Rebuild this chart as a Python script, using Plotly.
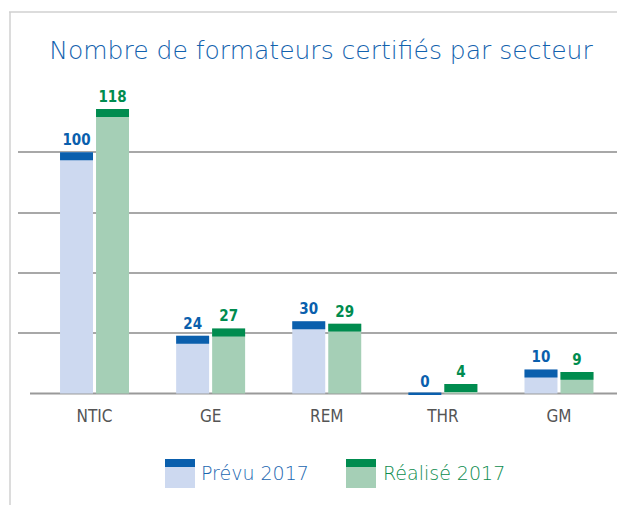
import plotly.graph_objects as go

categories = ["NTIC", "GE", "REM", "THR", "GM"]
prevu_2017 = [100, 24, 30, 0, 10]
realise_2017 = [118, 27, 29, 4, 9]
series_names = ["Prévu 2017", "Réalisé 2017"]
title_text = "Nombre de formateurs certifiés par secteur"
grid_values = [25, 50, 75, 100]

# page body has an 8px margin: work in screen pixels, shift by OFF
OFF = 8
W, H = 625 - OFF, 505 - OFF
SCR_L, SCR_R, SCR_T, SCR_B = 18, 624, 80, 396   # plot area in screen px
L, T = SCR_L - OFF, SCR_T - OFF
R = W - (SCR_R - OFF)
B = H - (SCR_B - OFF)
PW, PH = W - L - R, H - T - B

def xp(px):
    return (px - SCR_L) / PW

def yp(py):
    return (SCR_B - py) / PH

CAP = 3.3
LIGHT_BLUE, DARK_BLUE = "#cdd9f0", "#0a5fad"
LIGHT_GREEN, DARK_GREEN = "#a5cfb6", "#008c4f"
TITLE_FONT = "DejaVu Sans, sans-serif"
NUM_FONT = "DejaVu Sans Condensed, Liberation Sans Narrow, sans-serif"

def caps(vals):
    h = [min(CAP, v) if v > 0 else 0.8 for v in vals]
    base = [v - hh if v > 0 else -0.4 for v, hh in zip(vals, h)]
    return base, h

BW = 0.284
OFF_P = -0.297
OFF_R = 0.013

fig = go.Figure()
for vals, off, light, dark in [(prevu_2017, OFF_P, LIGHT_BLUE, DARK_BLUE),
                               (realise_2017, OFF_R, LIGHT_GREEN, DARK_GREEN)]:
    fig.add_trace(go.Bar(
        x=categories, y=vals, width=BW, offset=off,
        marker=dict(color=light, line=dict(width=0)),
        text=[str(v) for v in vals], textposition="outside",
        textfont=dict(family=NUM_FONT, size=15, color=dark, weight="bold"),
        cliponaxis=False, showlegend=False, hoverinfo="skip"))
    base, h = caps(vals)
    fig.add_trace(go.Bar(
        x=categories, y=h, base=base, width=BW, offset=off,
        marker=dict(color=dark, line=dict(width=0)),
        showlegend=False, hoverinfo="skip"))

shapes = []
shapes.append(dict(type="line", xref="paper", yref="y", x0=xp(30), x1=xp(623), y0=0, y1=0,
                   line=dict(color="#9a9a9a", width=2), layer="below"))
shapes.append(dict(type="line", xref="paper", yref="paper", x0=xp(9), x1=xp(625), y0=yp(12), y1=yp(12),
                   line=dict(color="#d0d0d0", width=1.5)))
shapes.append(dict(type="line", xref="paper", yref="paper", x0=xp(10), x1=xp(10), y0=yp(12), y1=yp(505),
                   line=dict(color="#d0d0d0", width=1.5)))
annotations = []
for x0, light, dark, name, col, tx in [(165, LIGHT_BLUE, DARK_BLUE, series_names[0], "#1a66b0", 199),
                                       (346, LIGHT_GREEN, DARK_GREEN, series_names[1], "#0c8c4e", 381)]:
    shapes.append(dict(type="rect", xref="paper", yref="paper", x0=xp(x0), x1=xp(x0 + 30),
                       y0=yp(488), y1=yp(467), fillcolor=light, line=dict(width=0)))
    shapes.append(dict(type="rect", xref="paper", yref="paper", x0=xp(x0), x1=xp(x0 + 30),
                       y0=yp(467), y1=yp(459), fillcolor=dark, line=dict(width=0)))
    annotations.append(dict(xref="paper", yref="paper", x=xp(tx), y=yp(473), text=name,
                            showarrow=False, xanchor="left", yanchor="middle",
                            font=dict(family=TITLE_FONT, size=19, color=col, weight=200)))

fig.update_layout(
    width=W, height=H,
    margin=dict(l=L, r=R, t=T, b=B),
    paper_bgcolor="white", plot_bgcolor="rgba(0,0,0,0)",
    barmode="overlay",
    title=dict(text=title_text, x=0.5, xref="paper", xanchor="center",
               y=1 - (50 - OFF) / H, yref="container", yanchor="middle",
               font=dict(family=TITLE_FONT, size=25, color="#1262ae", weight=200)),
    xaxis=dict(range=[-0.659, 4.56], showgrid=False, zeroline=False, showline=False,
               ticks="", ticklabelstandoff=8,
               tickfont=dict(family=NUM_FONT, size=17, color="#555555")),
    yaxis=dict(range=[-1, 130], tickvals=grid_values, showticklabels=False,
               showgrid=True, gridcolor="#a8a8a8", gridwidth=1.5, zeroline=False, showline=False),
    shapes=shapes, annotations=annotations,
)

fig.write_html("out.html")
